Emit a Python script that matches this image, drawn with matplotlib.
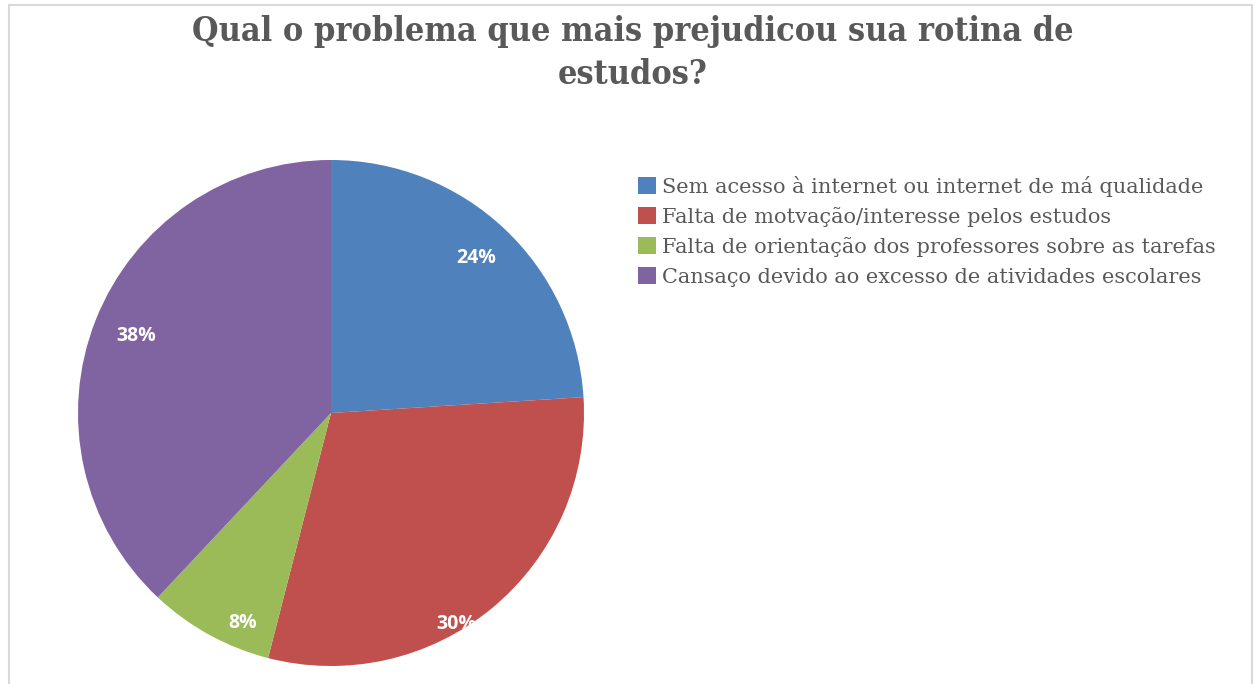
import numpy as np
import matplotlib.pyplot as plt
from matplotlib.patches import Rectangle

categories = [
    'Sem acesso à internet ou internet de má qualidade',
    'Falta de motvação/interesse pelos estudos',
    'Falta de orientação dos professores sobre as tarefas',
    'Cansaço devido ao excesso de atividades escolares',
]
values = [24, 30, 8, 38]
colors = ['#4F81BD', '#C0504D', '#9BBB59', '#8064A2']

# label placement (Excel "best fit" look): radius factor and angle shift
label_r = [0.84, 0.97, 0.90, 0.83]
label_shift = [0, -9, 6, 0]

W, H = 1255, 684
fig = plt.figure(figsize=(W / 100, H / 100), dpi=100)

# light frame around the chart area
fig.patches.append(Rectangle((9 / W, -0.05), (1252 - 9) / W, 1.05 - 5 / H,
                             transform=fig.transFigure, fill=False,
                             edgecolor='#d9d9d9', linewidth=1.5))

cx, cy, r = 331, 413, 253
ax = fig.add_axes([(cx - r) / W, (H - cy - r) / H, 2 * r / W, 2 * r / H])
wedges, _ = ax.pie(values, colors=colors, startangle=90, counterclock=False,
                   radius=1, wedgeprops=dict(linewidth=0))
ax.set_xlim(-1, 1)
ax.set_ylim(-1, 1)
ax.set_aspect('equal')
ax.axis('off')

for w, v, rr, sh in zip(wedges, values, label_r, label_shift):
    ang = np.deg2rad((w.theta1 + w.theta2) / 2 + sh)
    ax.text(rr * np.cos(ang), rr * np.sin(ang), f'{v}%', color='white',
            fontsize=14, fontweight='bold', family='Open Sans',
            ha='center', va='center', clip_on=False)

title_kw = dict(ha='center', va='center', fontsize=24.5, fontweight='bold',
                family='DejaVu Serif', fontstretch='condensed', color='#595959')
fig.text(0.504, 1 - 32 / H, 'Qual o problema que mais prejudicou sua rotina de', **title_kw)
fig.text(0.504, 1 - 74 / H, 'estudos?', **title_kw)

leg = fig.legend(wedges, categories, loc='upper left',
                 bbox_to_anchor=(638 / W, 1 - 176 / H), frameon=False,
                 prop=dict(family='DejaVu Serif', size=15),
                 handlelength=0.85, handleheight=0.85, handletextpad=0.3,
                 labelspacing=0.48, borderaxespad=0, borderpad=0)
for t in leg.get_texts():
    t.set_color('#595959')

fig.savefig('out.png', dpi=100)
